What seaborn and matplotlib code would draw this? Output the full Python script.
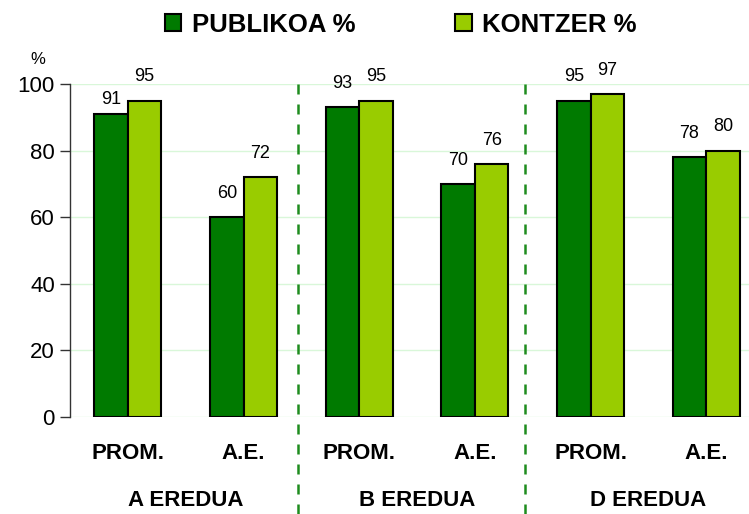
import matplotlib
matplotlib.use("Agg")
import matplotlib.pyplot as plt
import matplotlib.transforms as mtransforms
from matplotlib.patches import Patch
from matplotlib.lines import Line2D
import seaborn as sns
import pandas as pd

# ── Data ─────────────────────────────────────────────────────────────────────
categories = ["A PROM.", "A A.E.", "B PROM.", "B A.E.", "D PROM.", "D A.E."]
tick_labels = ["PROM.", "A.E.", "PROM.", "A.E.", "PROM.", "A.E."]
group_labels = ["A EREDUA", "B EREDUA", "D EREDUA"]
publikoa = [91, 60, 93, 70, 95, 78]
kontzer = [95, 72, 95, 76, 97, 80]
series = ["PUBLIKOA %", "KONTZER %"]

DARK_GREEN = "#007A00"
LIGHT_GREEN = "#99CC00"
GRID = "#D9F7D9"
INK = "#000000"

sns.set_theme(style="white")
plt.rcParams.update({
    "text.color": INK,
    "xtick.color": INK,
    "ytick.color": INK,
    "axes.labelcolor": INK,
})
plt.rcParams["font.family"] = ["Liberation Sans", "DejaVu Sans"]

df = pd.DataFrame({
    "cat": categories * 2,
    "value": publikoa + kontzer,
    "series": [series[0]] * len(categories) + [series[1]] * len(categories),
})

fig = plt.figure(figsize=(7.49, 5.14), dpi=100)
ax = fig.add_axes([0.0935, 0.1887, 0.9065, 0.6479])

sns.barplot(data=df, x="cat", y="value", hue="series", order=categories,
            hue_order=series, palette=[DARK_GREEN, LIGHT_GREEN], width=0.58,
            edgecolor="black", linewidth=1.5, saturation=1, ax=ax, legend=False)

for k, cont in enumerate(ax.containers):
    texts = ax.bar_label(cont, labels=[f"{v:.0f}" for v in cont.datavalues],
                         padding=11, fontsize=13, color=INK)
    # the first dark label sits closer to its bar in the original
    if k == 0:
        texts[0].xyann = (0, 4)

ax.set_ylim(0, 100)
ax.set_xlim(-0.5, 5.37)
ax.set_yticks(range(0, 101, 20))
ax.tick_params(axis="y", labelsize=16, length=7, width=1, direction="out",
               left=True, pad=4, color="#333333")
ax.set_xticks(range(len(categories)))
ax.set_xticklabels(tick_labels, fontsize=16, fontweight="bold")
ax.tick_params(axis="x", length=0, pad=19)
ax.set_xlabel("")
ax.set_ylabel("")
ax.yaxis.grid(True, color=GRID, linewidth=1)
ax.set_axisbelow(True)
for s in ["top", "right", "bottom"]:
    ax.spines[s].set_visible(False)
ax.spines["left"].set_color("#333333")
ax.spines["left"].set_linewidth(1)

# group labels and separators
trans = mtransforms.blended_transform_factory(ax.transData, ax.transAxes)
for i, g in enumerate(group_labels):
    ax.text(2 * i + 0.5, -0.25, g, transform=trans, ha="center", va="center",
            fontsize=16, fontweight="bold")
for xv in [1.47, 3.43]:
    ax.add_line(Line2D([xv, xv], [1.0, -0.3], transform=trans, color="#1E8C1E",
                       linestyle=(0, (4, 4)), linewidth=1.8, clip_on=False))

fig.text(0.05, 0.885, "%", fontsize=12, ha="center", va="center")

handles = [Patch(facecolor=DARK_GREEN, edgecolor="black", linewidth=1.5),
           Patch(facecolor=LIGHT_GREEN, edgecolor="black", linewidth=1.5)]
fig.legend(handles, series, loc="upper center", bbox_to_anchor=(0.535, 1.02),
           ncol=2, frameon=False, prop={"weight": "bold", "size": 18.5},
           handlelength=0.65, handleheight=0.65, handletextpad=0.4,
           columnspacing=3.9)

fig.savefig("out.png", dpi=100)
